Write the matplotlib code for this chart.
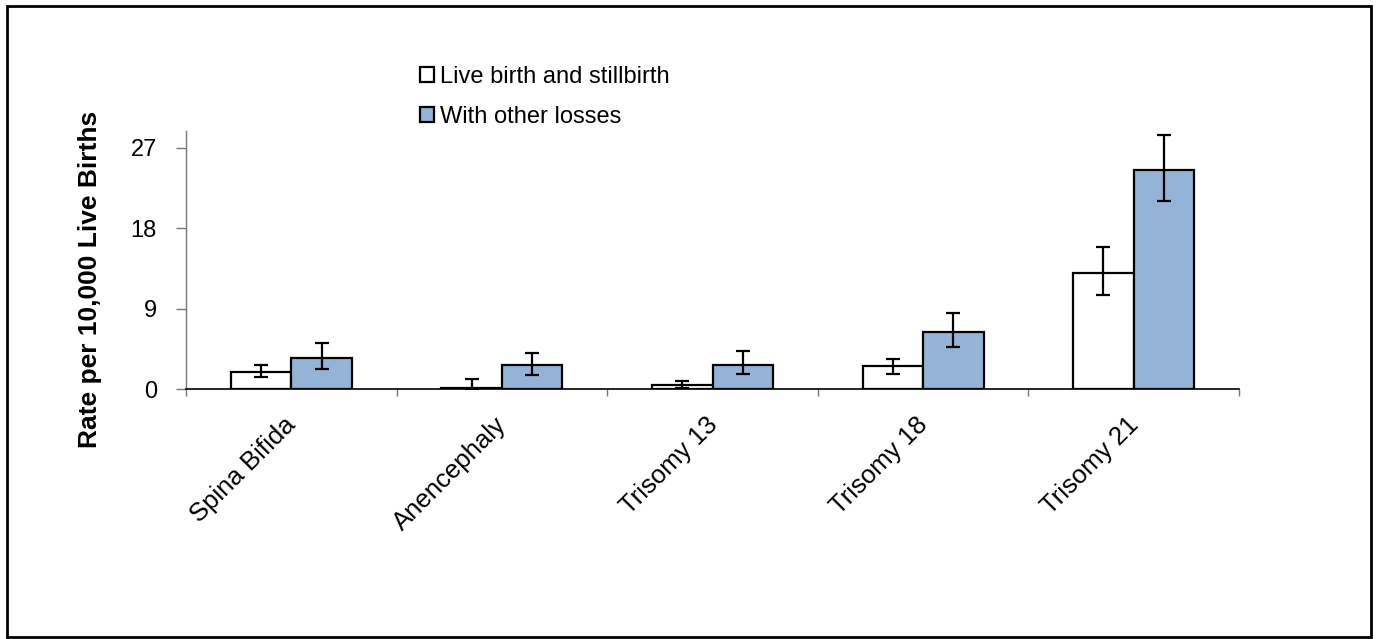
import numpy as np
import matplotlib
matplotlib.use('Agg')
import matplotlib.pyplot as plt
from matplotlib.patches import Rectangle

plt.rcParams['font.family'] = ['Liberation Sans', 'DejaVu Sans']

# rates per 10,000 live births with confidence limits
categories = ['Spina Bifida', 'Anencephaly', 'Trisomy 13', 'Trisomy 18', 'Trisomy 21']
live_still = [1.9, 0.16, 0.41, 2.54, 13.0]
live_still_lo = [1.31, 0.05, 0.10, 1.68, 10.5]
live_still_hi = [2.73, 1.09, 0.86, 3.33, 15.9]
with_losses = [3.44, 2.66, 2.73, 6.43, 24.55]
with_losses_lo = [2.29, 1.57, 1.68, 4.75, 21.1]
with_losses_hi = [5.16, 4.04, 4.30, 8.56, 28.4]
yticks = [0, 9, 18, 27]

W, H = 1377, 639
fig = plt.figure(figsize=(W / 100, H / 100), dpi=100)
ax = fig.add_axes([186 / W, 1 - 389 / H, (1239 - 186) / W, (389 - 131) / H])

x = np.arange(len(categories))
bw = 0.287
blue = '#95b3d7'

def yerr(v, lo, hi):
    v, lo, hi = map(np.array, (v, lo, hi))
    return np.vstack([v - lo, hi - v])

ax.bar(x - bw / 2, live_still, bw, color='white', edgecolor='black', linewidth=1.6,
       yerr=yerr(live_still, live_still_lo, live_still_hi),
       error_kw=dict(ecolor='black', elinewidth=1.6, capsize=5, capthick=1.6),
       label='Live birth and stillbirth', zorder=3)
ax.bar(x + bw / 2, with_losses, bw, color=blue, edgecolor='black', linewidth=1.6,
       yerr=yerr(with_losses, with_losses_lo, with_losses_hi),
       error_kw=dict(ecolor='black', elinewidth=1.6, capsize=5, capthick=1.6),
       label='With other losses', zorder=3)

ax.set_xlim(-0.5, len(categories) - 0.5)
ax.set_ylim(0, 28.9)
ax.set_yticks(yticks)
ax.set_yticklabels([str(t) for t in yticks], fontsize=17)

# category names slanted under each group
ax.set_xticks(x)
ax.set_xticklabels([])
for i, cat in enumerate(categories):
    ax.annotate(cat, xy=(x[i], 0), xycoords=('data', 'axes fraction'),
                xytext=(1, -32), textcoords='offset pixels',
                fontsize=18.5, rotation=45, ha='right', va='center',
                rotation_mode='anchor')
ax.set_xticks(np.arange(-0.5, len(categories)), minor=True)
ax.tick_params(axis='x', which='major', length=0)
ax.tick_params(axis='x', which='minor', length=5, width=1, color='#777777')
ax.tick_params(axis='y', length=7, width=1, color='#777777', pad=14)

for side in ['top', 'right']:
    ax.spines[side].set_visible(False)
ax.spines['left'].set_color('#777777')
ax.spines['left'].set_linewidth(1)
ax.spines['bottom'].set_color('black')
ax.spines['bottom'].set_linewidth(1.2)

fig.text(90 / W, 1 - 279 / H, 'Rate per 10,000 Live Births', rotation=90,
         fontsize=19, fontweight='bold', ha='center', va='center')

ax.legend(loc='upper left', bbox_to_anchor=(420 / W, 1 - 66 / H),
          bbox_transform=fig.transFigure, frameon=False, fontsize=17,
          handlelength=0.6, handleheight=0.6, handletextpad=0.25,
          labelspacing=0.75, borderpad=0, borderaxespad=0)

# outer frame around the whole chart
fig.patches.append(Rectangle((7 / W, 2 / H), 1364 / W, 631 / H, fill=False,
                             edgecolor='black', linewidth=2,
                             transform=fig.transFigure, figure=fig))

fig.savefig('out.png', dpi=100)
